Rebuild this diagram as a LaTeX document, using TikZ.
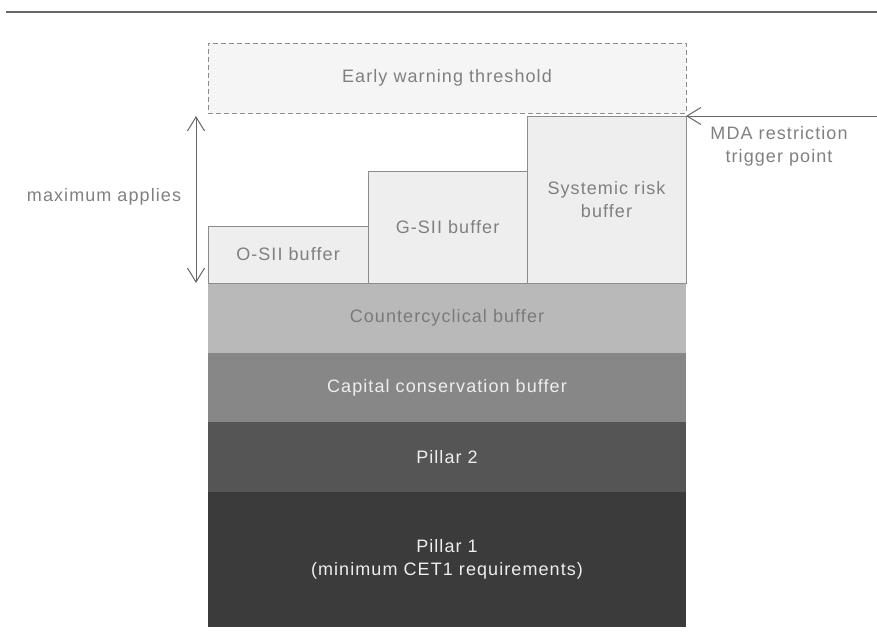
\documentclass[tikz,border=0pt]{standalone}
\usepackage{fontspec}
\setmainfont{Liberation Sans}[LetterSpace=6]
\usetikzlibrary{arrows.meta}
\definecolor{rulegray}{HTML}{666666}
\definecolor{edgegray}{HTML}{8C8C8C}
\definecolor{warnfill}{HTML}{F5F5F5}
\definecolor{buffill}{HTML}{EEEEEE}
\definecolor{labgray}{HTML}{808080}
\definecolor{ccybfill}{HTML}{B9B9B9}
\definecolor{ccbfill}{HTML}{878787}
\definecolor{ptwofill}{HTML}{555555}
\definecolor{ponefill}{HTML}{3B3B3B}
\definecolor{lighttext}{HTML}{EEEEEE}
\tikzset{
  every node/.style={font=\fontsize{18}{23}\selectfont, inner sep=0pt, outer sep=0pt},
  warnbox/.style={draw=edgegray, fill=warnfill, dashed, dash pattern=on 5pt off 3pt, line width=1pt, text=labgray},
  bufbox/.style={draw=edgegray, fill=buffill, line width=1pt, text=labgray, align=center},
  layer/.style={fill=#1, minimum width=478pt, align=center},
  pointer/.style={draw=rulegray, line width=1pt, -{Straight Barb[length=14pt,width=17pt,line width=1pt]}},
  twoway/.style={draw=rulegray, line width=1pt, {Straight Barb[length=14pt,width=17pt,line width=1pt]}-{Straight Barb[length=14pt,width=17pt,line width=1pt]}},
  note/.style={text=labgray, align=center}
}
\begin{document}
\begin{tikzpicture}[x=1pt, y=-1pt]
\useasboundingbox (0,0) rectangle (877,637);
% heading rule
\coordinate (ruleL) at (6,12);
\coordinate (ruleR) at (877,12);
\draw[rulegray, line width=2pt] (ruleL) -- (ruleR);

% early warning threshold
\node[warnbox, minimum width=478pt, minimum height=70pt] (ew) at (447,78) {Early warning threshold};

% capital stack
\node[layer=ponefill, minimum height=135pt, text=lighttext] (p1) at (447,559.5) {Pillar 1\\(minimum CET1 requirements)};
\node[layer=ptwofill, minimum height=70pt, text=lighttext] (p2) at (447,457) {Pillar 2};
\node[layer=ccbfill, minimum height=69pt, text=lighttext] (ccb) at (447,387.5) {Capital conservation buffer};
\node[layer=ccybfill, minimum height=70pt, text=labgray!95!black] (ccyb) at (447,318) {Countercyclical buffer};

% systemic buffers
\node[bufbox, minimum width=160pt, minimum height=57pt] (osii) at (288,254.5) {O-SII buffer};
\node[bufbox, minimum width=159pt, minimum height=112pt] (gsii) at (447.5,227) {G-SII buffer};
\node[bufbox, minimum width=159pt, minimum height=167pt] (srb) at (606.5,199.5) {Systemic risk\\buffer};

% maximum applies
\coordinate (maxtop) at (196,116);
\coordinate (maxbot) at (196,283);
\draw[twoway] (maxtop) -- (maxbot);
\node[note] (maxlab) at (104,197) {maximum applies};

% MDA trigger
\coordinate (mdastart) at (877,116);
\draw[pointer] (mdastart) -- (srb.north east);
\node[note] (mdalab) at (779,146.5) {MDA restriction\\trigger point};
\end{tikzpicture}
\end{document}
